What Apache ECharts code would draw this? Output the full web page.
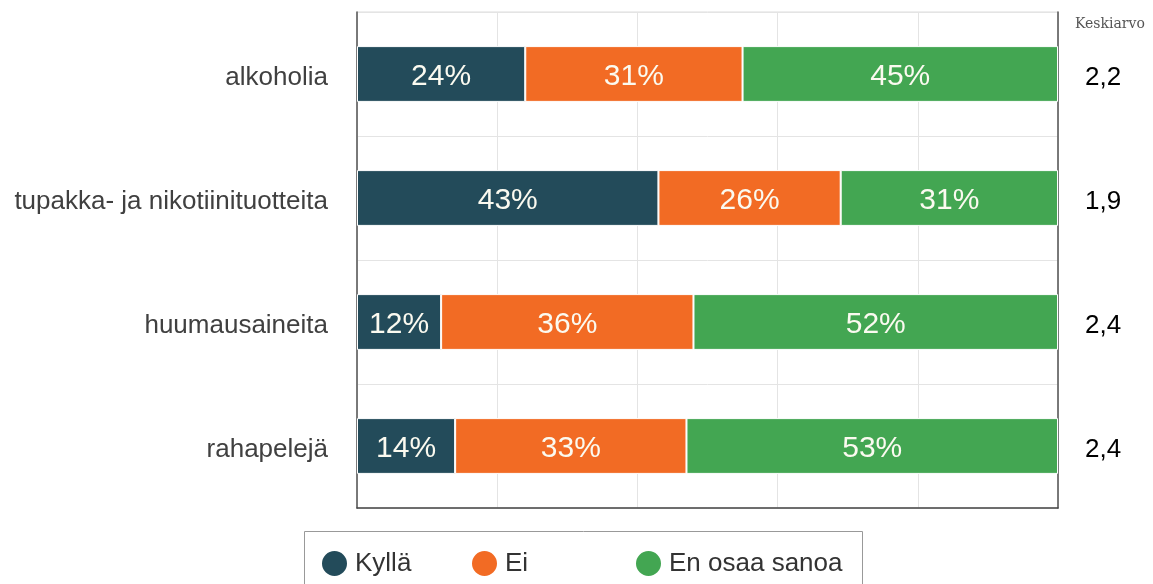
<!DOCTYPE html>
<html><head><meta charset="utf-8">
<script src="https://cdn.jsdelivr.net/npm/echarts@6/dist/echarts.min.js"></script>
<style>html,body{margin:0;padding:0;background:#fff}#c{width:1153px;height:584px}</style>
</head><body><div id="c"></div>
<script>
const categories = ['alkoholia', 'tupakka- ja nikotiinituotteita', 'huumausaineita', 'rahapelejä'];
const averages = ['2,2', '1,9', '2,4', '2,4'];
const seriesNames = ['Kyllä', 'Ei', 'En osaa sanoa'];
const kylla = [24, 43, 12, 14];
const ei = [31, 26, 36, 33];
const eos = [45, 31, 52, 53];
const colors = ['#234b5a', '#f26b24', '#43a652'];

const chart = echarts.init(document.getElementById('c'));
const FONT = 'Liberation Sans, Arial';
const mk = (name, data, color) => ({
  name, type: 'bar', stack: 'a', data, barWidth: '45%',
  itemStyle: { color, borderColor: '#ffffff', borderWidth: 1 },
  label: { show: true, position: 'inside', formatter: '{c}%', color: '#fbfaf0',
    fontFamily: FONT, fontSize: 30, offset: [0, 3] },
  emphasis: { disabled: true }
});
const legendX = [320, 470, 634];
const legends = seriesNames.map((n, i) => ({
  left: legendX[i], top: 549, padding: 0,
  icon: 'circle', itemWidth: 27, itemHeight: 27,
  textStyle: { fontSize: 26, color: '#333', fontFamily: FONT, padding: [0, 0, 0, 2] },
  data: [n]
}));
chart.setOption({
  animation: false,
  color: colors,
  grid: { left: 357, right: 95, top: 12, bottom: 76, show: true, borderColor: '#dddddd', borderWidth: 1 },
  xAxis: { type: 'value', min: 0, max: 100, interval: 20,
    axisLabel: { show: false }, axisTick: { show: false },
    axisLine: { show: true, lineStyle: { color: '#444', width: 1.5 } },
    splitLine: { show: true, lineStyle: { color: '#e4e4e4' } } },
  yAxis: [
    { type: 'category', data: categories, inverse: true,
      axisTick: { show: false },
      axisLine: { show: true, lineStyle: { color: '#555', width: 1.5 } },
      axisLabel: { margin: 29, formatter: v => '{a|' + v + '}',
        rich: { a: { color: '#404040', fontSize: 26, fontFamily: FONT, padding: [8, 0, 0, 0] } } },
      splitLine: { show: true, lineStyle: { color: '#e4e4e4' } } },
    { type: 'category', data: averages, inverse: true, position: 'right',
      axisTick: { show: false },
      axisLine: { show: true, lineStyle: { color: '#555', width: 1.5 } },
      axisLabel: { margin: 27, formatter: v => '{a|' + v + '}',
        rich: { a: { color: '#000', fontSize: 26, fontFamily: FONT, padding: [8, 0, 0, 0] } } } }
  ],
  legend: legends,
  graphic: [
    { type: 'text', left: 1075, top: 17,
      style: { text: 'Keskiarvo', font: '14px "DejaVu Serif", serif', fill: '#555' } },
    { type: 'rect', shape: { x: 304.5, y: 531.5, width: 558, height: 80 },
      style: { fill: 'none', stroke: '#999', lineWidth: 1 }, silent: true }
  ],
  series: [mk(seriesNames[0], kylla, colors[0]), mk(seriesNames[1], ei, colors[1]), mk(seriesNames[2], eos, colors[2])]
});
</script></body></html>
